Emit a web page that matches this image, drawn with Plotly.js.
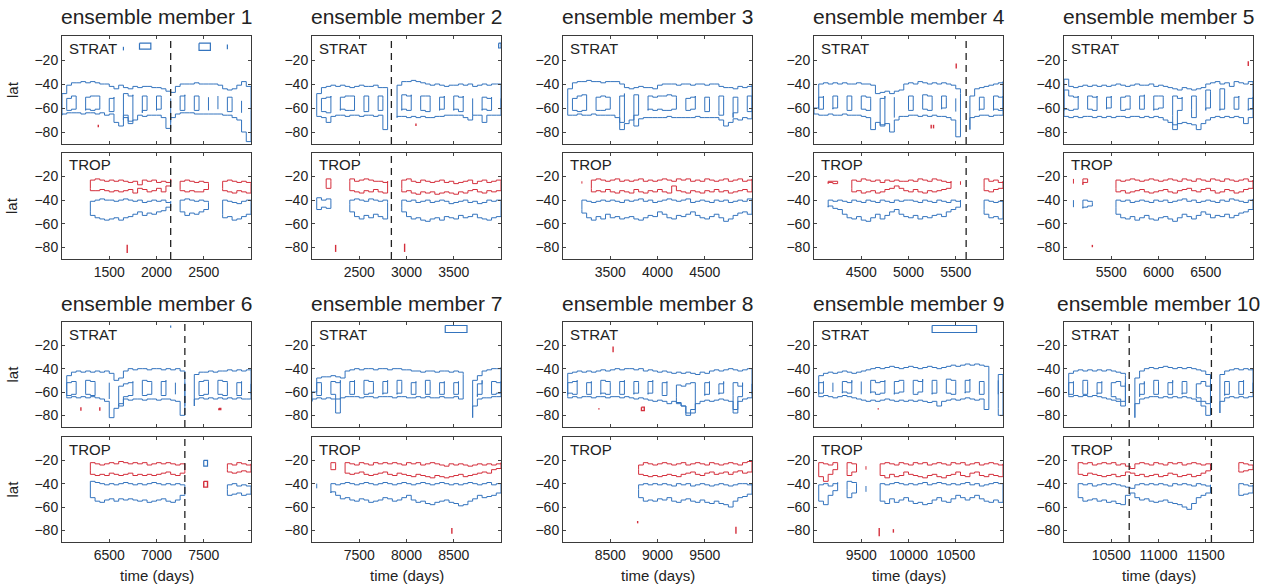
<!DOCTYPE html>
<html><head><meta charset="utf-8">
<script src="https://cdn.plot.ly/plotly-3.0.1.min.js"></script>
<style>html,body{margin:0;padding:0;background:#fff;}#chart{width:1269px;height:584px;}</style>
</head><body><div id="chart"></div>
<script>
const _ = null;
// ---------- data ----------
const memberStart = [1000,2000,3000,4000,5000,6000,7000,8000,9000,10000];
const dayOffset = [0,50,100,150,200,250,300,350,400,450,500,550,600,650,700,750,800,850,900,950,1000,1050,1100,1150,1200,1250,1300,1350,1400,1450,1500,1550,1600,1650,1700,1750,1800,1850,1900,1950,2000];
const latTicks = [-80,-60,-40,-20];
const timeTickOffsets = [500,1000,1500];

// member 1
const m1_sOU=[-48,-41,-39,-39,-38,-39,-38,-39,-40,-40, -42,-44,-41,-43,-44,-42,-43,-42,-42,-43, -43,-44,-46,-47,-42,-40,-40,-40,-39,-40, -40,-40,-40,-41,-44,-45,-44,-41,-38,-42, -62];
const m1_sOL=[-66,-65,-64,-64,-64,-65,-64,-64,-65,-64, -66,-65,-72,-75,-68,-73,-70,-66,-67,-66, -66,-66,-68,-77,-68,-65,-64,-64,-64,-65, -65,-65,-65,-65,-65,-66,-66,-68,-70,-80, -88];
const m1_sIU=[_,-52,-50,-50,_,-51,-50,-50,-51,_, -52,-51,_,-48,-50,-49,_,-50,-51,_, -50,-51,_,-52,_,-50,-49,_,-50,-50, _,-51,_,-50,_,-51,-52,_,-54,_, _];
const m1_sIL=[_,-61,-62,-61,_,-62,-61,-62,-61,_, -62,-63,_,-70,-66,-71,_,-64,-62,_, -62,-61,_,-72,_,-61,-62,_,-61,-62, _,-62,_,-61,_,-62,-63,_,-64,_, _];
const m1_rU=[_,_,_,_,_,_,-23,-22,-23,-24, -23,-24,-23,-24,-25,-24,-27,-23,-24,-23, -25,-24,-25,-22,_,-24,-23,-24,-25,-24, -25,-26,_,_,-24,-23,-24,-25,-24,-25, -26];
const m1_rL=[_,_,_,_,_,_,-30,-32,-32,-31, -32,-33,-32,-33,-32,-31,-34,-30,-31,-33, -32,-30,-33,-28,_,-31,-32,-33,-32,-33, -33,-31,_,_,-30,-32,-33,-34,-32,-33, -34];
const m1_bU=[_,_,_,_,_,_,-41,-40,-39,-40, -40,-41,-40,-39,-40,-41,-40,-42,-41,-40, -41,-40,-42,-41,_,-40,-39,-40,-41,-40, -41,-42,_,_,-40,-41,-42,-43,-41,-40, -42];
const m1_bL=[_,_,_,_,_,_,-50,-53,-55,-56, -57,-56,-55,-57,-55,-54,-52,-50,-53,-51, -52,-50,-49,-46,_,-49,-50,-53,-51,-52, -50,-48,_,_,-52,-55,-54,-57,-56,-54, -52];

// member 2
const m2_sOU=[_,-48,-43,-42,-41,-42,-41,-42,-43,-42, -41,-42,-42,-41,-43,-43,-44,_,-41,-38, -38,-37,-38,-39,-40,-41,-40,-41,-42,-41, -41,-40,-41,-40,-42,-41,-40,-41,-40,-40, -41];
const m2_sOL=[_,-66,-67,-68,-72,-67,-66,-66,-67,-66, -66,-67,-66,-66,-67,-66,-78,_,-68,-67, -67,-68,-67,-68,-67,-68,-68,-67,-67,-66, -66,-66,-66,-68,-70,-66,-66,-72,-66,-66, -66];
const m2_sIU=[_,_,-52,-51,-50,_,-51,-50,-50,-51, _,-50,-51,_,-50,-52,_,_,_,-49, -50,-49,_,-50,-50,-51,_,-51,-50,_, -50,-51,-50,_,-52,_,-51,-52,-51,_, -52];
const m2_sIL=[_,_,-62,-63,-64,_,-62,-61,-62,-62, _,-62,-63,_,-61,-62,_,_,_,-62, -61,-62,_,-61,-62,-63,_,-62,-61,_, -62,-61,-63,_,-66,_,-62,-61,-62,_, -61];
const m2_rU=[_,_,_,-22,-24,_,_,_,-22,-24, -23,-22,-23,-24,-24,-25,-24,_,_,-23, -22,-24,-25,-23,-24,-25,-24,-23,-25,-24, -26,-25,-24,-23,-26,-24,-23,-25,-24,-23, -24];
const m2_rL=[_,_,_,-29,-30,_,_,_,-24,-32, -33,-34,-32,-33,-31,-33,-34,_,_,-30, -33,-32,-34,-35,-33,-34,-33,-35,-34,-33, -34,-35,-33,-34,-32,-31,-33,-34,-32,-33, -32];
const m2_bU=[_,-38,-40,-39,-40,_,_,_,-40,-39, -40,-41,-39,-40,-41,-40,-42,_,_,-40, -41,-40,-42,-41,-40,-42,-41,-40,-41,-43, -42,-41,-40,-42,-41,-43,-42,-40,-41,-40, -41];
const m2_bL=[_,-45,-48,-46,-47,_,_,_,-44,-50, -54,-56,-53,-55,-52,-54,-56,_,_,-46, -50,-54,-56,-55,-57,-58,-56,-55,-57,-54, -55,-56,-53,-55,-54,-52,-55,-56,-57,-55, -54];

// member 3
const m3_sOU=[_,-44,-39,-38,-38,-37,-38,-38,-39,-38, -38,-38,-40,-43,-44,-43,-42,-43,-43,-44, -41,-40,-40,-40,-41,-40,-40,-41,-40,-40, -41,-40,-40,-42,-43,-43,-44,-42,-43,-42, -41];
const m3_sOL=[_,-66,-66,-66,-65,-66,-66,-65,-66,-66, -66,-66,-68,-78,-73,-70,-75,-69,-68,-68, -68,-68,-68,-67,-68,-68,-68,-68,-68,-67, -68,-68,-68,-68,-70,-75,-72,-69,-70,-68, -69];
const m3_sIU=[_,_,-52,-50,-49,-50,_,-51,-50,-51, -51,_,-50,-48,_,-49,-50,_,-50,-51, -50,-50,-49,-50,-51,_,-52,-51,-50,_, -51,-52,_,-50,-51,_,-51,-52,_,-50, -51];
const m3_sIL=[_,_,-61,-62,-63,-62,_,-61,-62,-62, -61,_,-66,-72,_,-70,-66,_,-62,-61, -62,-61,-62,-62,-61,_,-61,-62,-61,_, -62,-63,_,-62,-66,_,-68,-64,_,-62, -63];
const m3_rU=[_,_,_,_,-24,_,-23,-22,-23,-24, -23,-22,-24,-23,-24,-23,-22,-24,-23,-24, -23,-22,-23,-24,-22,-23,-22,-24,-23,-24, -22,-23,-24,-23,-22,-24,-23,-22,-24,-23, -22];
const m3_rL=[_,_,_,_,-26,_,-30,-33,-32,-33, -31,-33,-34,-32,-33,-34,-31,-33,-34,-32, -33,-31,-33,-34,-28,-32,-33,-34,-32,-33, -34,-32,-33,-31,-33,-32,-34,-33,-32,-31, -33];
const m3_bU=[_,_,_,_,-40,-41,-42,-41,-40,-41, -40,-41,-42,-40,-41,-40,-39,-41,-40,-42, -41,-40,-39,-40,-41,-40,-39,-42,-41,-40, -41,-42,-40,-41,-40,-42,-41,-40,-41,-39, -41];
const m3_bL=[_,_,_,_,-48,-51,-55,-57,-54,-56, -52,-55,-54,-56,-55,-54,-56,-57,-55,-53, -54,-50,-52,-55,-56,-53,-54,-52,-50,-53, -55,-56,-54,-52,-55,-58,-56,-53,-51,-50, -52];

// member 4
const m4_sOU=[-60,-40,-39,-40,-39,-40,-39,-40,-40,-39, -40,-40,-41,-48,-47,-46,-48,-46,-45,-40, -39,-40,-38,-39,-40,-39,-40,-39,-40,-41, -44,-48,_,-50,-44,-43,-42,-41,-40,-39, -38];
const m4_sOL=[-63,-65,-66,-66,-65,-66,-66,-65,-66,-66, -66,-67,-68,-78,-72,-74,-73,-80,-70,-67, -67,-66,-66,-67,-66,-67,-66,-67,-67,-68, -70,-84,_,-78,-68,-67,-66,-66,-67,-66, -66];
const m4_sIU=[_,-51,-50,_,-50,-51,_,-50,-50,_, -50,-51,-52,_,-52,-50,_,-51,_,_, -50,-50,_,-49,-50,-51,_,-50,-51,_, -52,_,_,_,_,-51,-52,_,-50,-51, -50];
const m4_sIL=[_,-60,-61,_,-61,-60,_,-61,-62,_, -60,-61,-62,_,-70,-75,_,-68,_,_, -61,-62,_,-60,-61,-62,_,-61,-60,_, -63,_,_,_,_,-62,-61,_,-62,-61, -62];
const m4_rU=[_,_,_,-24,-24,-24,_,_,-23,-24, -22,-23,-24,-23,-25,-23,-24,-23,-24,-24, -23,-24,-22,-23,-24,-22,-23,-24,-25,-24, _,-24,_,_,_,_,-22,-24,-23,-25, -24];
const m4_rL=[_,_,_,-26,-25,-26,_,_,-30,-33, -32,-34,-33,-32,-34,-33,-31,-30,-28,-30, -32,-33,-31,-33,-34,-32,-33,-32,-31,-30, _,-27,_,_,_,_,-29,-32,-33,-31, -30];
const m4_bU=[_,_,_,-40,-41,-40,-41,-42,-40,-41, -42,-40,-41,-42,-40,-41,-42,-40,-41,-40, -40,-41,-42,-40,-41,-42,-40,-41,-42,-40, -41,-40,_,_,_,_,-40,-41,-42,-41, -40];
const m4_bL=[_,_,_,-46,-45,-47,-48,-52,-55,-56, -54,-57,-58,-55,-52,-56,-53,-50,-48,-52, -54,-55,-53,-56,-54,-55,-53,-52,-54,-50, -48,-46,_,_,_,_,-48,-52,-55,-54, -56];

// member 5
const m5_sOU=[-36,-42,-43,-42,-41,-42,-41,-42,-41,-42, -41,-40,-41,-42,-41,-40,-41,-41,-40,-42, -41,-42,-43,-44,-45,-43,-44,-45,-44,-43, -40,-39,-38,-40,-39,-42,-38,-39,-40,-38, -40];
const m5_sOL=[-66,-67,-68,-67,-68,-67,-67,-68,-67,-68, -67,-68,-67,-67,-68,-67,-67,-68,-67,-68, -67,-68,-70,-72,-78,-73,-72,-73,-74,-78, -73,-70,-68,-67,-68,-67,-68,-67,-68,-73, -68];
const m5_sIU=[-45,-50,-51,-50,_,-50,-51,-50,_,-51, -50,_,-51,-50,-51,_,-50,-49,_,-50, -50,-51,_,-50,-52,-51,_,-50,-51,_, -45,-46,_,-44,-50,_,-51,-50,_,-52, -51];
const m5_sIL=[-62,-61,-62,-61,_,-60,-61,-62,_,-61, -60,_,-61,-62,-61,_,-60,-61,_,-62, -61,-60,_,-66,-74,-62,_,-61,-68,_, -62,-60,_,-62,-61,_,-60,-61,_,-62, -61];
const m5_rU=[_,_,-22,_,-22,-22,_,_,_,_, _,-23,-24,-23,-22,-23,-24,-23,-22,-23, -24,-23,-22,-23,-24,-22,-23,-24,-22,-23, -24,-22,-23,-24,-22,-23,-24,-23,-22,-24, -23];
const m5_rL=[_,_,-26,_,-27,-25,_,_,_,_, _,-30,-33,-32,-34,-33,-32,-31,-33,-34, -33,-32,-31,-33,-34,-32,-31,-30,-32,-33, -31,-30,-32,-34,-33,-31,-32,-34,-33,-31, -30];
const m5_bU=[_,_,-40,_,-40,-41,-42,_,_,_, _,-40,-41,-40,-42,-41,-40,-41,-42,-40, -41,-40,-42,-41,-40,-39,-41,-40,-42,-41, -40,-41,-42,-40,-41,-39,-40,-41,-42,-40, -39];
const m5_bL=[_,_,-46,_,-47,-46,-45,_,_,_, _,-46,-52,-55,-56,-54,-57,-55,-53,-56, -57,-55,-54,-56,-58,-55,-52,-54,-56,-53, -50,-52,-55,-53,-54,-52,-55,-53,-51,-50, -48];

// member 6
const m6_sOU=[_,-46,-43,-42,-43,-42,-43,-42,-43,-42, -44,-50,-48,-42,-40,-41,-40,-40,-41,-40, -40,-41,-40,-41,-40,-42,-45,_,-45,-43, -43,-42,-43,-42,-42,-41,-42,-41,-42,-41, -41];
const m6_sOL=[_,-64,-65,-64,-65,-64,-65,-64,-65,-66, -68,-82,-74,-70,-66,-67,-66,-66,-67,-66, -66,-67,-66,-66,-67,-68,-80,_,-72,-66, -65,-66,-65,-66,-65,-66,-65,-66,-65,-66, -66];
const m6_sIU=[_,-52,-51,-51,_,-50,-51,-52,_,_, -52,_,-55,-53,-52,-51,_,-50,-51,-52, _,-51,-50,_,-52,_,-52,_,_,-51, -50,-51,_,-50,-51,-52,_,-52,-51,_, -53];
const m6_sIL=[_,-62,-63,-62,_,-61,-62,-63,_,_, -66,_,-70,-72,-64,-63,_,-62,-63,-62, _,-62,-63,_,-62,_,-72,_,_,-62, -63,-62,_,-61,-62,-63,_,-62,-63,_, -62];
const m6_rU=[_,_,_,_,_,_,-22,-23,-24,-23, -22,-23,-21,-22,-23,-22,-23,-22,-24,-23, -22,-23,-22,-23,-24,-23,-25,_,_,_, _,_,_,_,_,-23,-24,-22,-23,-24, -23];
const m6_rL=[_,_,_,_,_,_,-29,-32,-33,-32, -33,-31,-32,-33,-32,-31,-33,-32,-33,-32, -33,-32,-31,-30,-32,-33,-31,_,_,_, _,_,_,_,_,-28,-30,-31,-30,-29, -30];
const m6_bU=[_,_,_,_,_,_,-38,-39,-40,-41, -40,-41,-40,-39,-40,-41,-40,-41,-40,-39, -40,-41,-40,-41,-40,-41,-42,_,_,_, _,_,_,_,_,-41,-40,-42,-41,-42, -43];
const m6_bL=[_,_,_,_,_,_,-48,-52,-55,-56, -54,-53,-55,-53,-54,-53,-54,-55,-54,-56, -55,-54,-53,-55,-56,-54,-50,_,_,_, _,_,_,_,_,-45,-50,-49,-48,-50, -49];

// member 7
const m7_sOU=[-60,-48,-47,-47,-46,-47,-48,-42,-41,-40, -41,-40,-40,-41,-40,-40,-41,-40,-40,-41, -41,-42,-42,-43,-42,-42,-43,-42,-42,-43, -42,-43,-45,_,-50,-46,-42,-41,-40,-40, -39];
const m7_sOL=[-68,-66,-65,-66,-65,-66,-78,-65,-64,-64, -64,-65,-64,-64,-65,-64,-64,-64,-65,-64, -64,-65,-65,-64,-65,-64,-65,-65,-64,-65, -65,-64,-66,_,-82,-72,-66,-65,-65,-64, -64];
const m7_sIU=[_,-52,-53,_,-51,-52,-50,_,-51,-50, _,-50,-51,-52,_,-51,-50,_,-50,-51, _,-52,-51,_,-50,-51,_,-52,-51,_, -52,-51,_,_,_,-53,-50,_,-51,-52, -51];
const m7_sIL=[_,-62,-63,_,-61,-62,-66,_,-61,-62, _,-61,-62,-61,_,-62,-61,_,-62,-61, _,-61,-62,_,-61,-62,_,-61,-62,_, -61,-62,_,_,_,-64,-62,_,-61,-62, -61];
const m7_rU=[_,_,_,_,-22,-23,_,-22,-23,-24, -22,-23,-24,-22,-23,-22,-23,-22,-23,-24, -22,-23,-22,-24,-23,-22,-23,-24,-25,-23, -24,-23,-24,-25,-24,-23,-24,-23,-24,-23, -22];
const m7_rL=[_,_,_,_,-27,-28,_,-30,-31,-32, -31,-30,-32,-33,-32,-31,-30,-32,-33,-31, -32,-33,-34,-32,-33,-34,-35,-33,-34,-35, -34,-33,-32,-34,-33,-32,-31,-30,-31,-28, -27];
const m7_bU=[_,-40,_,_,-40,-41,-40,-39,-40,-41, -40,-39,-40,-41,-40,-39,-40,-41,-40,-39, -40,-41,-40,-39,-40,-41,-40,-39,-40,-41, -40,-41,-40,-39,-40,-41,-40,-39,-41,-40, -41];
const m7_bL=[_,-44,_,_,-48,-47,-50,-53,-52,-54, -55,-53,-54,-56,-55,-54,-52,-53,-55,-54, -52,-50,-54,-56,-55,-57,-58,-56,-55,-54, -56,-57,-59,-58,-55,-53,-50,-52,-51,-50, -48];

// member 8
const m8_sOU=[_,-44,-43,-42,-43,-42,-43,-42,-41,-42, -41,-40,-41,-40,-40,-41,-40,-42,-41,-42, -43,-42,-43,-44,-43,-44,-43,-44,-45,-43, -44,-42,-41,-42,-41,-40,-41,-42,-41,-40, -41];
const m8_sOL=[_,-64,-65,-64,-65,-64,-64,-65,-64,-64, -65,-64,-64,-65,-64,-65,-66,-65,-66,-67, -68,-67,-68,-70,-68,-69,-72,-80,-78,-70, -68,-67,-68,-67,-66,-67,-68,-78,-68,-66, -65];
const m8_sIU=[_,-52,-51,-50,_,-52,-51,_,-50,-51, -52,_,-51,-50,_,-51,-52,_,-51,-50, _,-52,-51,_,-54,-55,-53,-52,-54,_, -52,-51,_,-53,-51,_,-52,-55,-52,_, -53];
const m8_sIL=[_,-62,-61,-62,_,-61,-62,_,-62,-61, -62,_,-61,-62,_,-62,-61,_,-62,-61, _,-62,-63,_,-65,-70,-72,-78,-75,_, -63,-62,_,-62,-61,_,-63,-75,-64,_, -62];
const m8_rU=[_,_,_,_,_,_,_,_,_,_, _,_,_,_,_,_,-24,-22,-23,-24, -23,-22,-23,-24,-23,-22,-24,-23,-22,-23, -24,-22,-23,-24,-23,-22,-23,-24,-22,-21, -22];
const m8_rL=[_,_,_,_,_,_,_,_,_,_, _,_,_,_,_,_,-28,-32,-33,-34, -33,-34,-33,-32,-33,-34,-32,-31,-30,-32, -33,-31,-30,-32,-31,-30,-32,-30,-29,-31, -30];
const m8_bU=[_,_,_,_,_,_,_,_,_,_, _,_,_,_,_,_,-41,-40,-41,-40, -41,-40,-41,-42,-40,-41,-40,-42,-41,-40, -41,-42,-41,-40,-41,-42,-41,-40,-40,-41, -40];
const m8_bL=[_,_,_,_,_,_,_,_,_,_, _,_,_,_,_,_,-45,-52,-55,-54, -55,-53,-54,-52,-55,-56,-54,-53,-55,-56, -54,-56,-57,-55,-57,-58,-60,-55,-52,-51, -49];

// member 9
const m9_sOU=[_,-46,-44,-43,-44,-43,-42,-43,-44,-43, -42,-41,-40,-39,-40,-39,-38,-39,-40,-39, -38,-39,-40,-39,-38,-39,-40,-39,-38,-37, -38,-37,-36,-37,-36,-37,-38,-42,_,-45, -48];
const m9_sOL=[_,-63,-64,-63,-64,-65,-64,-63,-64,-65, -66,-67,-68,-67,-68,-67,-66,-67,-68,-67, -68,-67,-68,-67,-68,-69,-68,-72,-68,-67, -66,-67,-66,-65,-66,-67,-66,-75,_,-74, -80];
const m9_sIU=[_,-52,-51,_,-52,_,-51,-52,-50,_, -51,_,-50,-52,-51,-50,_,-51,-50,-51, _,-50,-51,-49,_,-50,-51,_,-49,-50, -51,_,-50,-49,_,-51,-52,_,_,-50, _];
const m9_sIL=[_,-60,-61,_,-60,_,-61,-60,-61,_, -62,_,-61,-60,-62,-61,_,-62,-61,-60, _,-61,-62,-60,_,-62,-61,_,-60,-61, -62,_,-61,-60,_,-61,-62,_,_,-62, _];
const m9_rU=[_,-22,-23,-24,-22,-23,_,-22,-23,-24, _,-25,_,_,-23,-22,-23,-24,-22,-23, -24,-22,-23,-22,-24,-23,-22,-23,-24,-22, -23,-22,-24,-23,-22,-24,-23,-22,-23,-24, -23];
const m9_rL=[_,-30,-34,-38,-32,-28,_,-28,-33,-30, _,-28,_,_,-30,-33,-35,-32,-34,-33, -30,-32,-33,-34,-35,-33,-32,-34,-35,-33, -32,-30,-33,-34,-31,-30,-33,-34,-32,-33, -34];
const m9_bU=[_,-41,-40,-42,-40,-39,_,-38,-39,-40, _,-42,_,_,-40,-41,-40,-39,-40,-41, -40,-41,-40,-39,-41,-40,-39,-40,-41,-40, -41,-40,-39,-41,-40,-42,-41,-40,-39,-40, -41];
const m9_bL=[_,-48,-55,-58,-50,-46,_,-45,-52,-48, _,-47,_,_,-48,-55,-57,-53,-56,-54, -52,-55,-57,-56,-58,-57,-54,-52,-55,-56, -53,-50,-52,-54,-52,-50,-53,-55,-56,-54, -56];

// member 10
const m10_sOU=[_,-44,-42,-41,-42,-41,-42,-41,-42,-41, -42,-43,-44,-46,_,-48,-42,-40,-39,-40, -39,-38,-39,-40,-39,-40,-39,-40,-41,-42, -45,-48,_,-45,-42,-41,-40,-41,-40,-41, -40];
const m10_sOL=[_,-63,-64,-63,-64,-63,-64,-63,-64,-65, -66,-67,-68,-72,_,-82,-70,-66,-65,-64, -64,-65,-64,-65,-64,-65,-64,-65,-66,-68, -72,-80,_,-78,-68,-65,-64,-65,-64,-65, -64];
const m10_sIU=[_,-52,-51,_,-50,-51,_,-52,-51,_, -52,-51,-55,-52,_,_,-53,-51,_,-50, -51,_,-52,-50,_,-51,-52,_,-53,-51, -55,-53,_,_,-51,-52,_,-51,-50,_, -52];
const m10_sIL=[_,-61,-62,_,-61,-62,_,-62,-61,_, -63,-64,-66,-68,_,_,-64,-62,_,-61, -62,_,-61,-62,_,-62,-61,_,-63,-65, -68,-70,_,_,-63,-62,_,-61,-62,_, -61];
const m10_rU=[_,_,_,-22,-23,-22,-24,-23,-22,-23, -22,-24,-23,-25,-27,-23,-22,-23,-24,-22, -23,-24,-22,-23,-22,-24,-23,-22,-23,-24, -23,-25,_,_,_,_,_,-22,-23,-24, -25];
const m10_rL=[_,_,_,-28,-32,-33,-31,-32,-33,-34, -33,-32,-34,-33,-30,-31,-33,-32,-34,-33, -32,-34,-33,-31,-32,-34,-33,-32,-34,-33, -31,-29,_,_,_,_,_,-28,-30,-29, -28];
const m10_bU=[_,_,_,-40,-41,-40,-42,-41,-40,-41, -40,-41,-42,-43,-44,-41,-40,-41,-40,-41, -40,-41,-42,-40,-41,-40,-41,-42,-40,-41, -42,-41,_,_,_,_,_,-40,-41,-42, -41];
const m10_bL=[_,_,_,-46,-52,-55,-54,-53,-55,-54, -56,-55,-57,-58,-50,-48,-52,-54,-53,-55, -56,-55,-54,-56,-57,-58,-60,-62,-57,-52, -50,-48,_,_,_,_,_,-45,-50,-49, -48];

// dashed event lines
const dashMember = [1,2,4,6,10,10];
const dashTime   = [2150,2840,5610,7300,10690,11560];

// small isolated contours: member, panel, time, duration (days), lat top, lat bottom, colour
const markMember = [1,1,1,1,1,1, 2,2,2,2, 4,4,4, 5,5, 6,6,6,6,6,6, 7,7, 8,8,8,8,8, 9,9,9,9];
const markPanel  = ['S','S','S','S','S','T', 'S','S','T','T', 'S','S','S', 'S','T', 'S','S','S','S','T','T', 'S','T', 'S','S','S','T','T', 'S','S','T','T'];
const markTime   = [1384,1650,1820,2450,2750,1690, 3100,3975,2250,2980, 5505,5240,5265, 6950,5300, 6200,6400,7660,7150,7500,7500, 8410,8480, 8530,8380,8830,8790,9830, 10250,9680,9690,9840];
const markDays   = [0,0,120,120,0,0, 0,25,0,0, 0,0,0, 0,0, 0,0,20,0,40,40, 230,0, 0,0,30,0,0, 470,0,0,0];
const markLatTop = [-74,-9,-6,-6,-7,-78, -73,-6,-78,-77, -23,-74,-74, -21,-78, -73,-73,-74,-3,-20,-38, -3,-78, -21,-74,-73,-72,-77, -3,-74,-78,-79];
const markLatBot = [-76,-12,-11,-12,-11,-85, -75,-10,-84,-84, -27,-77,-77, -25,-80, -76,-76,-75,-5,-25,-43, -9,-83, -26,-75,-76,-74,-83, -9,-75,-85,-82];
const markColor  = ['r','b','b','b','b','r', 'r','b','r','r', 'r','r','r', 'r','r', 'r','r','r','b','b','r', 'b','r', 'r','r','r','r','r', 'b','r','r','r'];

// ---------- drawing ----------
const members = [
  [m1_sOU,m1_sOL,m1_sIU,m1_sIL,m1_rU,m1_rL,m1_bU,m1_bL],
  [m2_sOU,m2_sOL,m2_sIU,m2_sIL,m2_rU,m2_rL,m2_bU,m2_bL],
  [m3_sOU,m3_sOL,m3_sIU,m3_sIL,m3_rU,m3_rL,m3_bU,m3_bL],
  [m4_sOU,m4_sOL,m4_sIU,m4_sIL,m4_rU,m4_rL,m4_bU,m4_bL],
  [m5_sOU,m5_sOL,m5_sIU,m5_sIL,m5_rU,m5_rL,m5_bU,m5_bL],
  [m6_sOU,m6_sOL,m6_sIU,m6_sIL,m6_rU,m6_rL,m6_bU,m6_bL],
  [m7_sOU,m7_sOL,m7_sIU,m7_sIL,m7_rU,m7_rL,m7_bU,m7_bL],
  [m8_sOU,m8_sOL,m8_sIU,m8_sIL,m8_rU,m8_rL,m8_bU,m8_bL],
  [m9_sOU,m9_sOL,m9_sIU,m9_sIL,m9_rU,m9_rL,m9_bU,m9_bL],
  [m10_sOU,m10_sOL,m10_sIU,m10_sIL,m10_rU,m10_rL,m10_bU,m10_bL]
];

const BLUE = '#3474be', RED = '#d42f3c', FONT = 'Liberation Sans, Arial, Helvetica, sans-serif', INK = '#222';
const W = 1269, H = 584;
const colLeft = [62, 312, 563, 814, 1064], boxW = 189;
const rowBoxes = [[[36,144],[153,259]], [[322,427],[437,542]]]; // [row][panel] -> [top,bottom] px

function loops(t, U, L) {
  const xs = [], ys = [];
  let i = 0; const n = t.length;
  while (i < n) {
    if (U[i] == null || L[i] == null) { i++; continue; }
    let j = i;
    while (j + 1 < n && U[j+1] != null && L[j+1] != null) j++;
    if (j === i) { xs.push(t[i], t[i], null); ys.push(U[i], L[i], null); }
    else {
      for (let k = i; k <= j; k++) { xs.push(t[k]); ys.push(U[k]); }
      for (let k = j; k >= i; k--) { xs.push(t[k]); ys.push(L[k]); }
      xs.push(t[i], null); ys.push(U[i], null);
    }
    i = j + 1;
  }
  return {xs, ys};
}

const traces = [], shapes = [], annotations = [];
const layout = {
  width: W, height: H, margin: {l:0, r:0, t:0, b:0},
  paper_bgcolor: '#fff', plot_bgcolor: '#fff', showlegend: false,
  font: {family: FONT, color: INK, size: 14}
};

function axName(k, letter) { return k === 1 ? letter + 'axis' : letter + 'axis' + k; }
function axRef(k, letter) { return k === 1 ? letter : letter + k; }

for (let m = 0; m < 10; m++) {
  const row = Math.floor(m / 5), col = m % 5;
  const start = memberStart[m];
  const t = dayOffset.map(d => start + d);
  const [sOU, sOL, sIU, sIL, rU, rL, bU, bL] = members[m];
  const xt = timeTickOffsets.map(o => start + o);
  for (let p = 0; p < 2; p++) {
    const k = 2 * m + p + 1;
    const [top, bot] = rowBoxes[row][p];
    const xa = axRef(k, 'x'), ya = axRef(k, 'y');
    layout[axName(k, 'x')] = {
      domain: [colLeft[col] / W, (colLeft[col] + boxW) / W], anchor: ya,
      range: [start, start + 2000], tickmode: 'array', tickvals: xt, ticktext: xt.map(String),
      showticklabels: p === 1, ticks: 'inside', ticklen: 3, tickcolor: '#444',
      showline: true, mirror: 'ticks', linecolor: '#3a3a3a', linewidth: 1,
      showgrid: false, zeroline: false, tickfont: {size: 14, color: INK, family: FONT}, fixedrange: true
    };
    layout[axName(k, 'y')] = {
      domain: [1 - bot / H, 1 - top / H], anchor: xa,
      range: [-90, 0], tickvals: latTicks, ticks: 'inside', ticklen: 3, tickcolor: '#444',
      showline: true, mirror: 'ticks', linecolor: '#3a3a3a', linewidth: 1,
      showgrid: false, zeroline: false, tickfont: {size: 14, color: INK, family: FONT}, fixedrange: true
    };
    const bands = p === 0 ? [[sOU, sOL, BLUE], [sIU, sIL, BLUE]] : [[rU, rL, RED], [bU, bL, BLUE]];
    bands.forEach(([U, L, c]) => {
      const lp = loops(t, U, L);
      traces.push({type: 'scatter', mode: 'lines', x: lp.xs, y: lp.ys, xaxis: xa, yaxis: ya,
        line: {color: c, width: 1, shape: 'hv'}, hoverinfo: 'skip', connectgaps: false});
    });
    annotations.push({xref: 'paper', yref: 'paper', x: (colLeft[col] + 5) / W, y: 1 - (top + 12) / H,
      xanchor: 'left', yanchor: 'middle', text: p === 0 ? 'STRAT' : 'TROP', showarrow: false,
      font: {size: 15, color: INK, family: FONT}});
    if (col === 0) {
      annotations.push({xref: 'paper', yref: 'paper', x: 12 / W, y: 1 - ((top + bot) / 2) / H,
        xanchor: 'center', yanchor: 'middle', text: 'lat', textangle: -90, showarrow: false,
        font: {size: 15, color: INK, family: FONT}});
    }
    if (row === 1 && p === 1) {
      annotations.push({xref: 'paper', yref: 'paper', x: (colLeft[col] + boxW / 2) / W, y: 1 - 575 / H,
        xanchor: 'center', yanchor: 'middle', text: 'time (days)', showarrow: false,
        font: {size: 15, color: INK, family: FONT}});
    }
    dashMember.forEach((dm, di) => {
      if (dm === m + 1) shapes.push({type: 'line', xref: xa, yref: ya + ' domain', x0: dashTime[di], x1: dashTime[di],
        y0: 0, y1: 1, line: {color: '#222', width: 1.3, dash: '7px,5px'}});
    });
    const mx = [], my = [], rx = [], ry = [];
    markMember.forEach((mm, mi) => {
      if (mm !== m + 1 || markPanel[mi] !== (p === 0 ? 'S' : 'T')) return;
      const X = markColor[mi] === 'r' ? rx : mx, Y = markColor[mi] === 'r' ? ry : my;
      const t0 = markTime[mi], t1 = markTime[mi] + markDays[mi];
      if (markDays[mi] > 0) {
        X.push(t0, t1, t1, t0, t0, null); Y.push(markLatTop[mi], markLatTop[mi], markLatBot[mi], markLatBot[mi], markLatTop[mi], null);
      } else { X.push(t0, t0, null); Y.push(markLatTop[mi], markLatBot[mi], null); }
    });
    if (mx.length) traces.push({type: 'scatter', mode: 'lines', x: mx, y: my, xaxis: xa, yaxis: ya, line: {color: BLUE, width: 1.2}, hoverinfo: 'skip'});
    if (rx.length) traces.push({type: 'scatter', mode: 'lines', x: rx, y: ry, xaxis: xa, yaxis: ya, line: {color: RED, width: 1.4}, hoverinfo: 'skip'});
  }
  annotations.push({xref: 'paper', yref: 'paper', x: (colLeft[col] + boxW / 2) / W, y: 1 - (row === 0 ? 17 : 303) / H,
    xanchor: 'center', yanchor: 'middle', text: 'ensemble member ' + (m + 1), showarrow: false,
    font: {size: 21, color: INK, family: FONT}});
}
layout.shapes = shapes;
layout.annotations = annotations;
Plotly.newPlot('chart', traces, layout, {staticPlot: true, displayModeBar: false});
</script>
</body></html>
